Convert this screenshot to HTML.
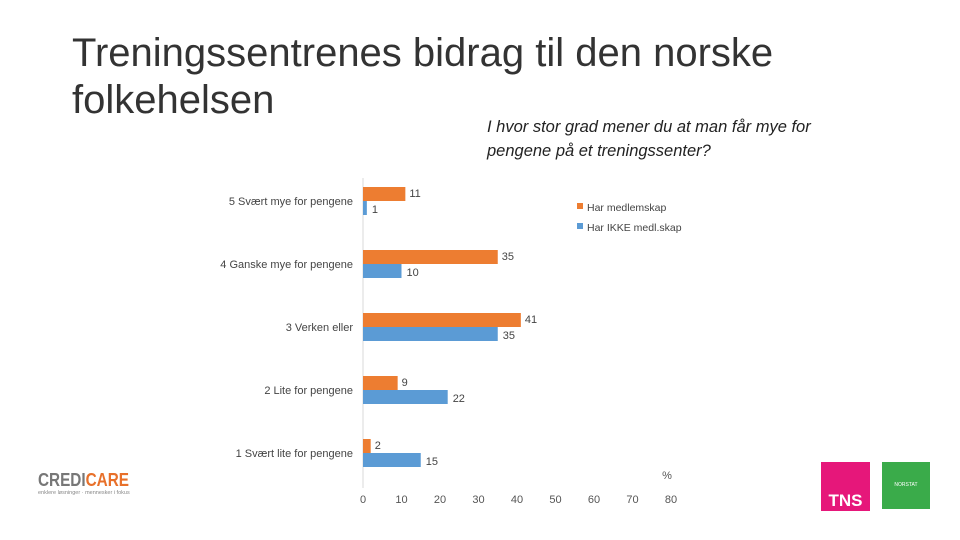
<!DOCTYPE html>
<html><head><meta charset="utf-8"><style>
body{margin:0;width:960px;height:540px;background:#fff;overflow:hidden;font-family:"Liberation Sans",sans-serif;position:relative}
.t{position:absolute;left:72px;top:30px;font-size:40px;line-height:47px;color:#333;font-weight:300}
.q{position:absolute;left:487px;top:115px;font-size:16.5px;line-height:24px;font-style:italic;color:#222}
svg{position:absolute;left:0;top:0}
</style></head><body>
<div class="t">Treningssentrenes bidrag til den norske<br>folkehelsen</div>
<div class="q">I hvor stor grad mener du at man får mye for<br>pengene på et treningssenter?</div>
<svg id="c" width="960" height="540"></svg>
<div style="position:absolute;left:38px;top:470px;width:110px;height:30px">
<div style="font:bold 18px 'Liberation Sans',sans-serif;letter-spacing:0px;color:#777;line-height:20px;transform:scaleX(0.85);transform-origin:left">CREDI<span style="color:#e8702a">CARE</span></div>
<div style="font-size:5.5px;color:#888">enklere løsninger · mennesker i fokus</div></div>
<div style="position:absolute;left:821px;top:462px;width:49px;height:49px;background:#e6177a;color:#fff;font:bold 17px 'Liberation Sans',sans-serif;text-align:center;line-height:78px">TNS</div>
<div style="position:absolute;left:882px;top:462px;width:48px;height:47px;background:#3aab4a;color:#fff;font-size:5px;text-align:center;line-height:47px">NORSTAT</div>
<script>
const categories=["5 Svært mye for pengene","4 Ganske mye for pengene","3 Verken eller","2 Lite for pengene","1 Svært lite for pengene"];
const members=[11,35,41,9,2];
const nonMembers=[1,10,35,22,15];
const ticks=[0,10,20,30,40,50,60,70,80];
const NS="http://www.w3.org/2000/svg",svg=document.getElementById('c');
const x=v=>363+v*3.85, cy=i=>201+i*63;
function mk(t,a,txt){const e=document.createElementNS(NS,t);for(const k in a)e.setAttribute(k,a[k]);if(txt!=null)e.textContent=txt;svg.appendChild(e);return e;}
let ax=mk('line',{x1:363,x2:363,y1:178,y2:488,stroke:'#d9d9d9'});


ticks.forEach(t=>{let e=mk('text',{x:x(t),y:503,'text-anchor':'middle','font-size':11,fill:'#555'},t);

});
let pc=mk('text',{x:667,y:479,'text-anchor':'middle','font-size':11,fill:'#555'},'%');


categories.forEach((c,i)=>{
let l=mk('text',{x:353,y:cy(i)+4,'text-anchor':'end','font-size':11,fill:'#444'},c);


let b=mk('rect',{x:363,y:cy(i)-14,width:x(members[i])-363,height:14,fill:'#ed7d31'});


let v=mk('text',{x:x(members[i])+4,y:cy(i)-4,'font-size':11,fill:'#444'},members[i]);


let b2=mk('rect',{x:363,y:cy(i),width:x(nonMembers[i])-363,height:14,fill:'#5b9bd5'});


let v2=mk('text',{x:x(nonMembers[i])+5,y:cy(i)+12,'font-size':11,fill:'#444'},nonMembers[i]);


});
[['Har medlemskap','#ed7d31',207],['Har IKKE medl.skap','#5b9bd5',227]].forEach(([n,c,y])=>{
let r=mk('rect',{x:577,y:y-4,width:6,height:6,fill:c});


let t=mk('text',{x:587,y:y+4,'font-size':10.5,fill:'#444'},n);


});
</script>
</body></html>
